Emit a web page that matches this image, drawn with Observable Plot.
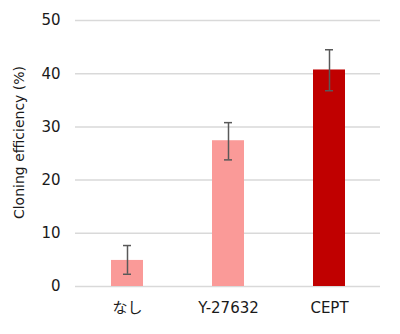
<!DOCTYPE html>
<html><head><meta charset="utf-8">
<script src="https://cdn.jsdelivr.net/npm/d3@7"></script>
<script src="https://cdn.jsdelivr.net/npm/@observablehq/plot@0.6"></script>
<style>
body{margin:0;background:#fff;}
svg{font-family:"DejaVu Sans","Noto Sans CJK JP",sans-serif;}
</style>
</head><body>
<div id="chart"></div>
<script>
const categories = ["なし", "Y-27632", "CEPT"];
const values = [4.9, 27.4, 40.7];
const errLow = [2.3, 23.8, 36.8];
const errHigh = [7.7, 30.8, 44.5];
const colors = ["#fa9a98", "#fa9a98", "#c00000"];
const yTicks = [0, 10, 20, 30, 40, 50];

const data = categories.map((c, i) => ({cat: c, v: values[i], lo: errLow[i], hi: errHigh[i], color: colors[i]}));

const plot = Plot.plot({
  width: 400,
  height: 334,
  marginLeft: 75,
  marginRight: 20,
  marginTop: 20,
  marginBottom: 48,
  style: {fontSize: "15px", color: "#1a1a1a"},
  x: {domain: categories, paddingInner: 0.685, paddingOuter: 0.3425, label: null, tickSize: 0, tickPadding: 16},
  y: {domain: [0, 50], ticks: yTicks, label: null, tickSize: 0, tickPadding: 15},
  marks: [
    Plot.ruleY(yTicks, {stroke: "#d9d9d9", strokeWidth: 1.5}),
    Plot.barY(data, {x: "cat", y: "v", fill: "color"}),
    Plot.ruleX(data, {x: "cat", y1: "lo", y2: "hi", stroke: "#595959", strokeWidth: 1.5}),
    Plot.tickY(data, {x: "cat", y: "lo", stroke: "#595959", strokeWidth: 1.5, inset: 12}),
    Plot.tickY(data, {x: "cat", y: "hi", stroke: "#595959", strokeWidth: 1.5, inset: 12}),
    Plot.text(["Cloning efficiency (%)"], {frameAnchor: "left", textAnchor: "middle", dx: -56, dy: -11, rotate: -90, fontSize: 14, fill: "#1a1a1a"})
  ]
});
document.getElementById("chart").appendChild(plot);
</script>
</body></html>
